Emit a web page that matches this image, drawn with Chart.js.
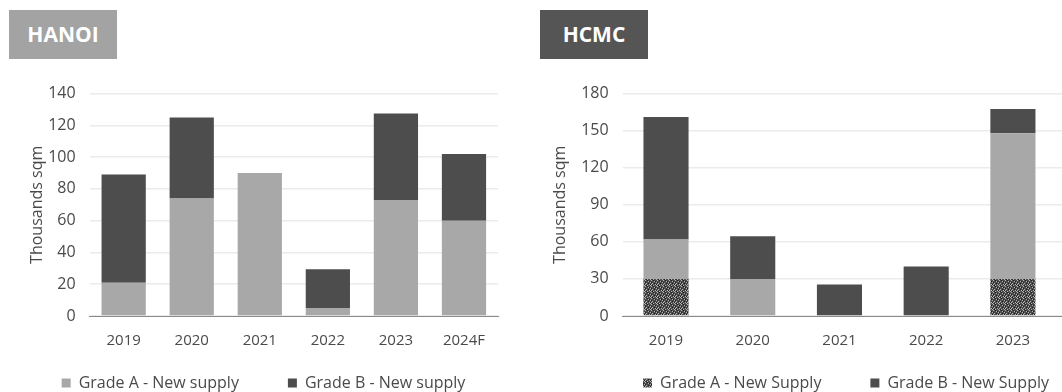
<!DOCTYPE html>
<html>
<head>
<meta charset="utf-8">
<script src="https://cdn.jsdelivr.net/npm/chart.js@4.4.0/dist/chart.umd.min.js"></script>
<style>
    html, body { margin: 0; padding: 0; background: #fff; overflow: hidden; width: 1062px; height: 392px; }
    .tag { position: absolute; top: 10px; height: 49px; width: 108px; color: #fff; font: bold 21px "Open Sans", sans-serif; line-height: 49px; text-align: center; }
    #hanoiTag { left: 9px; background: #a3a3a3; }
    #hcmcTag { left: 540px; background: #555555; }
    .box { position: absolute; top: 70px; height: 331px; }
    #hanoiBox { left: 26px; width: 475px; }
    #hcmcBox { left: 549px; width: 594px; }
</style>
</head>
<body>
<div class="tag" id="hanoiTag">HANOI</div>
<div class="tag" id="hcmcTag">HCMC</div>
<div class="box" id="hanoiBox"><canvas id="hanoiChart"></canvas></div>
<div class="box" id="hcmcBox"><canvas id="hcmcChart"></canvas></div>
<script>
// ------------------ DATA ------------------
const hanoiYears = ['2019', '2020', '2021', '2022', '2023', '2024F'];
const hanoiGradeA = [21, 74, 90, 5, 73, 60];
const hanoiGradeB = [68, 51, 0, 24.5, 54.5, 42];
const hanoiTicks = [0, 20, 40, 60, 80, 100, 120, 140];

const hcmcYears = ['2019', '2020', '2021', '2022', '2023', '2024F'];
const hcmcGradeA = [30, 0, 0, 0, 30, null];
const hcmcLight = [32, 30, 0, 0, 118, null];
const hcmcGradeB = [99, 34.5, 25.5, 40, 19.5, null];
const hcmcTicks = [0, 30, 60, 90, 120, 150, 180];

const textColor = '#4a4a4a';
const font = '"Open Sans", sans-serif';

// speckled fill for HCMC grade A
function speckle() {
    const c = document.createElement('canvas');
    c.width = 6; c.height = 6;
    const g = c.getContext('2d');
    g.fillStyle = '#4c4c4c';
    g.fillRect(0, 0, 6, 6);
    g.fillStyle = '#b5b5b5';
    [[0,0],[3,1],[5,2],[1,3],[4,4],[2,5],[0,4],[5,5]].forEach(p => g.fillRect(p[0], p[1], 1, 1));
    g.fillStyle = '#1e1e1e';
    [[2,0],[4,1],[0,2],[3,3],[5,4],[1,5]].forEach(p => g.fillRect(p[0], p[1], 1, 1));
    return g.createPattern(c, 'repeat');
}

// legend items: wider gap after the first entry, text unchanged
function legendLabels(chart) {
    const items = Chart.defaults.plugins.legend.labels.generateLabels(chart);
    items.forEach((it, i) => { if (i === 0) it.text = it.text + '\u2003\u2003\u2002'; });
    return items;
}

function options(max, ticks, barPct, titleBottom) {
    return {
        responsive: true,
        maintainAspectRatio: false,
        animation: false,
        layout: { padding: { left: 0, right: 0, top: 8, bottom: 0 } },
        plugins: {
            tooltip: { enabled: false },
            legend: {
                position: 'bottom',
                labels: {
                    color: textColor, font: { family: font, size: 16 },
                    boxWidth: 9, boxHeight: 9, padding: 9,
                    generateLabels: legendLabels,
                    filter: item => item.text !== ''
                }
            }
        },
        datasets: { bar: { categoryPercentage: 1, barPercentage: barPct } },
        scales: {
            x: {
                stacked: true,
                grid: { display: false, drawTicks: false },
                border: { display: true, color: '#8a8a8a', dash: [2, 1] },
                ticks: { color: textColor, font: { family: font, size: 15 }, padding: 16 }
            },
            y: {
                stacked: true,
                min: 0, max: max,
                afterBuildTicks: axis => { axis.ticks = ticks.map(v => ({ value: v })); },
                grid: { color: '#ebebeb', lineWidth: 1.5, drawTicks: false },
                border: { display: false },
                ticks: { color: textColor, font: { family: font, size: 16 }, padding: 14 },
                title: { display: true, text: 'Thousands sqm', color: textColor, font: { family: font, size: 16 }, padding: { top: 2, bottom: titleBottom } }
            }
        }
    };
}

new Chart(document.getElementById('hanoiChart').getContext('2d'), {
    type: 'bar',
    data: {
        labels: hanoiYears,
        datasets: [
            { label: 'Grade A - New supply', data: hanoiGradeA, backgroundColor: '#a8a8a8' },
            { label: 'Grade B - New supply', data: hanoiGradeB, backgroundColor: '#4d4d4d' }
        ]
    },
    options: options(140, hanoiTicks, 0.65, -13)
});

new Chart(document.getElementById('hcmcChart').getContext('2d'), {
    type: 'bar',
    data: {
        labels: hcmcYears,
        datasets: [
            { label: 'Grade A - New Supply', data: hcmcGradeA, backgroundColor: speckle() },
            { label: '', data: hcmcLight, backgroundColor: '#a8a8a8' },
            { label: 'Grade B - New Supply', data: hcmcGradeB, backgroundColor: '#4d4d4d' }
        ]
    },
    options: options(180, hcmcTicks, 0.52, -3)
});
</script>
</body>
</html>
